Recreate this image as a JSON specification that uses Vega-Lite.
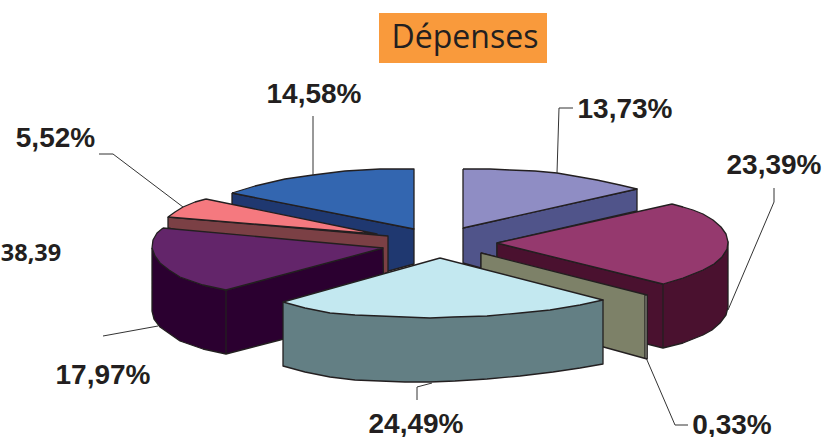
{"$schema":"https://vega.github.io/schema/vega-lite/v6.json","width":838,"height":437,"autosize":{"type":"none"},"padding":0,"background":"white","view":{"stroke":null},
"layer":[
{"data":{"values":[{"x":379,"x2":547,"y":13,"y2":63}]},"mark":{"type":"rect","fill":"#f99a3c"},"encoding":{"x":{"field":"x","type":"quantitative","scale":{"domain":[0,838],"nice":false,"zero":false},"axis":null},"x2":{"field":"x2"},"y":{"field":"y","type":"quantitative","scale":{"domain":[437,0],"nice":false,"zero":false},"axis":null},"y2":{"field":"y2"}}},
{"data":{"values":[
{"part":"blue side","i":1,"x":232,"y":193},{"part":"blue side","i":2,"x":414,"y":229},{"part":"blue side","i":3,"x":414,"y":264},{"part":"blue side","i":4,"x":385,"y":272},{"part":"blue side","i":5,"x":232,"y":204},{"part":"blue side","i":6,"x":232,"y":193},
{"part":"blue top","i":1,"x":232,"y":193},{"part":"blue top","i":2,"x":255,"y":186},{"part":"blue top","i":3,"x":285,"y":179},{"part":"blue top","i":4,"x":313,"y":175},{"part":"blue top","i":5,"x":345,"y":171},{"part":"blue top","i":6,"x":380,"y":169},{"part":"blue top","i":7,"x":414,"y":169},{"part":"blue top","i":8,"x":414,"y":229},{"part":"blue top","i":9,"x":232,"y":193},
{"part":"lavender side","i":1,"x":463,"y":228},{"part":"lavender side","i":2,"x":637,"y":189},{"part":"lavender side","i":3,"x":637,"y":211},{"part":"lavender side","i":4,"x":497,"y":243},{"part":"lavender side","i":5,"x":497,"y":257},{"part":"lavender side","i":6,"x":481,"y":253},{"part":"lavender side","i":7,"x":481,"y":268},{"part":"lavender side","i":8,"x":463,"y":263},{"part":"lavender side","i":9,"x":463,"y":228},
{"part":"lavender top","i":1,"x":463,"y":169},{"part":"lavender top","i":2,"x":490,"y":169},{"part":"lavender top","i":3,"x":510,"y":170},{"part":"lavender top","i":4,"x":535,"y":171},{"part":"lavender top","i":5,"x":557,"y":173},{"part":"lavender top","i":6,"x":580,"y":177},{"part":"lavender top","i":7,"x":597,"y":180},{"part":"lavender top","i":8,"x":620,"y":185},{"part":"lavender top","i":9,"x":637,"y":189},{"part":"lavender top","i":10,"x":463,"y":228},{"part":"lavender top","i":11,"x":463,"y":169},
{"part":"pink side","i":1,"x":168,"y":217},{"part":"pink side","i":2,"x":388,"y":236},{"part":"pink side","i":3,"x":388,"y":272},{"part":"pink side","i":4,"x":380,"y":276},{"part":"pink side","i":5,"x":168,"y":228},{"part":"pink side","i":6,"x":168,"y":217},
{"part":"pink top","i":1,"x":206,"y":199},{"part":"pink top","i":2,"x":377,"y":234},{"part":"pink top","i":3,"x":168,"y":217},{"part":"pink top","i":4,"x":175,"y":212},{"part":"pink top","i":5,"x":183,"y":207},{"part":"pink top","i":6,"x":195,"y":202},{"part":"pink top","i":7,"x":206,"y":199},
{"part":"purple side","i":1,"x":152,"y":248},{"part":"purple side","i":2,"x":160,"y":263},{"part":"purple side","i":3,"x":180,"y":277},{"part":"purple side","i":4,"x":203,"y":285},{"part":"purple side","i":5,"x":226,"y":290},{"part":"purple side","i":6,"x":383,"y":248},{"part":"purple side","i":7,"x":384,"y":311},{"part":"purple side","i":8,"x":280,"y":340},{"part":"purple side","i":9,"x":226,"y":354},{"part":"purple side","i":10,"x":203,"y":349},{"part":"purple side","i":11,"x":180,"y":341},{"part":"purple side","i":12,"x":160,"y":327},{"part":"purple side","i":13,"x":154,"y":319},{"part":"purple side","i":14,"x":152,"y":311},{"part":"purple side","i":15,"x":152,"y":248},
{"part":"purple front","i":1,"x":226,"y":290},{"part":"purple front","i":2,"x":226,"y":354},
{"part":"purple top","i":1,"x":163,"y":228},{"part":"purple top","i":2,"x":383,"y":248},{"part":"purple top","i":3,"x":226,"y":290},{"part":"purple top","i":4,"x":203,"y":285},{"part":"purple top","i":5,"x":180,"y":277},{"part":"purple top","i":6,"x":169,"y":270},{"part":"purple top","i":7,"x":160,"y":263},{"part":"purple top","i":8,"x":155,"y":256},{"part":"purple top","i":9,"x":152,"y":248},{"part":"purple top","i":10,"x":153,"y":240},{"part":"purple top","i":11,"x":157,"y":233},{"part":"purple top","i":12,"x":163,"y":228},
{"part":"maroon side","i":1,"x":497,"y":243},{"part":"maroon side","i":2,"x":663,"y":284},{"part":"maroon side","i":3,"x":683,"y":278},{"part":"maroon side","i":4,"x":703,"y":270},{"part":"maroon side","i":5,"x":714,"y":264},{"part":"maroon side","i":6,"x":722,"y":257},{"part":"maroon side","i":7,"x":727,"y":249},{"part":"maroon side","i":8,"x":728,"y":242},{"part":"maroon side","i":9,"x":728,"y":307},{"part":"maroon side","i":10,"x":726,"y":315},{"part":"maroon side","i":11,"x":720,"y":323},{"part":"maroon side","i":12,"x":712,"y":330},{"part":"maroon side","i":13,"x":703,"y":335},{"part":"maroon side","i":14,"x":683,"y":343},{"part":"maroon side","i":15,"x":663,"y":348},{"part":"maroon side","i":16,"x":647,"y":344},{"part":"maroon side","i":17,"x":497,"y":257},{"part":"maroon side","i":18,"x":497,"y":243},
{"part":"maroon front","i":1,"x":663,"y":284},{"part":"maroon front","i":2,"x":663,"y":348},
{"part":"maroon top","i":1,"x":672,"y":204},{"part":"maroon top","i":2,"x":683,"y":207},{"part":"maroon top","i":3,"x":693,"y":210},{"part":"maroon top","i":4,"x":703,"y":214},{"part":"maroon top","i":5,"x":713,"y":220},{"part":"maroon top","i":6,"x":721,"y":227},{"part":"maroon top","i":7,"x":726,"y":234},{"part":"maroon top","i":8,"x":728,"y":242},{"part":"maroon top","i":9,"x":727,"y":249},{"part":"maroon top","i":10,"x":722,"y":257},{"part":"maroon top","i":11,"x":714,"y":264},{"part":"maroon top","i":12,"x":703,"y":270},{"part":"maroon top","i":13,"x":683,"y":278},{"part":"maroon top","i":14,"x":663,"y":284},{"part":"maroon top","i":15,"x":497,"y":243},{"part":"maroon top","i":16,"x":672,"y":204},
{"part":"olive","i":1,"x":481,"y":253},{"part":"olive","i":2,"x":647,"y":295},{"part":"olive","i":3,"x":647,"y":359},{"part":"olive","i":4,"x":560,"y":335},{"part":"olive","i":5,"x":481,"y":312},{"part":"olive","i":6,"x":481,"y":253},
{"part":"olive edge","i":1,"x":645,"y":295},{"part":"olive edge","i":2,"x":647,"y":295},{"part":"olive edge","i":3,"x":647,"y":359},{"part":"olive edge","i":4,"x":645,"y":358},{"part":"olive edge","i":5,"x":645,"y":295},
{"part":"cyan side","i":1,"x":283,"y":302},{"part":"cyan side","i":2,"x":603,"y":300},{"part":"cyan side","i":3,"x":603,"y":364},{"part":"cyan side","i":4,"x":580,"y":368},{"part":"cyan side","i":5,"x":553,"y":372},{"part":"cyan side","i":6,"x":520,"y":376},{"part":"cyan side","i":7,"x":487,"y":379},{"part":"cyan side","i":8,"x":455,"y":381},{"part":"cyan side","i":9,"x":430,"y":382},{"part":"cyan side","i":10,"x":405,"y":382},{"part":"cyan side","i":11,"x":380,"y":381},{"part":"cyan side","i":12,"x":355,"y":380},{"part":"cyan side","i":13,"x":330,"y":377},{"part":"cyan side","i":14,"x":305,"y":372},{"part":"cyan side","i":15,"x":283,"y":366},{"part":"cyan side","i":16,"x":283,"y":302},
{"part":"cyan top","i":1,"x":440,"y":258},{"part":"cyan top","i":2,"x":603,"y":300},{"part":"cyan top","i":3,"x":580,"y":305},{"part":"cyan top","i":4,"x":550,"y":310},{"part":"cyan top","i":5,"x":520,"y":313},{"part":"cyan top","i":6,"x":487,"y":316},{"part":"cyan top","i":7,"x":453,"y":317},{"part":"cyan top","i":8,"x":430,"y":318},{"part":"cyan top","i":9,"x":405,"y":317},{"part":"cyan top","i":10,"x":380,"y":316},{"part":"cyan top","i":11,"x":355,"y":315},{"part":"cyan top","i":12,"x":330,"y":313},{"part":"cyan top","i":13,"x":305,"y":308},{"part":"cyan top","i":14,"x":283,"y":302},{"part":"cyan top","i":15,"x":440,"y":258}
]},"mark":{"type":"line","filled":true,"stroke":"#231f20","strokeWidth":1.3,"strokeJoin":"round"},"encoding":{"x":{"field":"x","type":"quantitative","scale":{"domain":[0,838],"nice":false,"zero":false},"axis":null},"y":{"field":"y","type":"quantitative","scale":{"domain":[437,0],"nice":false,"zero":false},"axis":null},"order":{"field":"i","type":"ordinal"},"fill":{"field":"part","type":"nominal","legend":null,"scale":{"domain":["blue side","blue top","lavender side","lavender top","pink side","pink top","purple side","purple front","purple top","maroon side","maroon front","maroon top","olive","olive edge","cyan side","cyan top"],"range":["#1f3870","#3366b0","#50548a","#8f8dc4","#7b4045","#f5797f","#2b0030","#2b0030","#63256a","#4a112f","#4a112f","#95396e","#7d8168","#d5d8c4","#637f84","#c3e8f0"]}}}},
{"data":{"values":[
{"leader":"a","i":1,"x":313,"y":175},{"leader":"a","i":2,"x":313,"y":116},
{"leader":"b","i":1,"x":183,"y":207},{"leader":"b","i":2,"x":113,"y":154},{"leader":"b","i":3,"x":99,"y":154},
{"leader":"c","i":1,"x":557,"y":173},{"leader":"c","i":2,"x":559,"y":108},{"leader":"c","i":3,"x":573,"y":108},
{"leader":"d","i":1,"x":728,"y":310},{"leader":"d","i":2,"x":774,"y":202},{"leader":"d","i":3,"x":774,"y":188},
{"leader":"e","i":1,"x":647,"y":360},{"leader":"e","i":2,"x":675,"y":425},{"leader":"e","i":3,"x":688,"y":425},
{"leader":"f","i":1,"x":432,"y":383},{"leader":"f","i":2,"x":417,"y":387},{"leader":"f","i":3,"x":417,"y":400},
{"leader":"g","i":1,"x":158,"y":326},{"leader":"g","i":2,"x":103,"y":336}
]},"mark":{"type":"line","stroke":"#333333","strokeWidth":1},"encoding":{"x":{"field":"x","type":"quantitative","scale":{"domain":[0,838],"nice":false,"zero":false},"axis":null},"y":{"field":"y","type":"quantitative","scale":{"domain":[437,0],"nice":false,"zero":false},"axis":null},"order":{"field":"i","type":"ordinal"},"detail":{"field":"leader"}}},
{"data":{"values":[
{"label":"14,58%","x":314,"y":103},{"label":"5,52%","x":55.5,"y":147},{"label":"13,73%","x":625,"y":118},{"label":"23,39%","x":774,"y":174},{"label":"0,33%","x":732,"y":434},{"label":"24,49%","x":416,"y":433},{"label":"17,97%","x":103,"y":384}
]},"mark":{"type":"text","font":"Liberation Sans","fontWeight":"bold","fontSize":28,"color":"#231f20","align":"center","baseline":"alphabetic"},"encoding":{"x":{"field":"x","type":"quantitative","scale":{"domain":[0,838],"nice":false,"zero":false},"axis":null},"y":{"field":"y","type":"quantitative","scale":{"domain":[437,0],"nice":false,"zero":false},"axis":null},"text":{"field":"label"}}},
{"data":{"values":[{"label":"38,39","x":31,"y":261}]},"mark":{"type":"text","font":"Open Sans","fontWeight":"bold","fontSize":23.5,"color":"#231f20","align":"center","baseline":"alphabetic"},"encoding":{"x":{"field":"x","type":"quantitative","scale":{"domain":[0,838],"nice":false,"zero":false},"axis":null},"y":{"field":"y","type":"quantitative","scale":{"domain":[437,0],"nice":false,"zero":false},"axis":null},"text":{"field":"label"}}},
{"data":{"values":[{"label":"Dépenses","x":465,"y":48}]},"mark":{"type":"text","font":"Open Sans","fontSize":32,"color":"#231f20","align":"center","baseline":"alphabetic"},"encoding":{"x":{"field":"x","type":"quantitative","scale":{"domain":[0,838],"nice":false,"zero":false},"axis":null},"y":{"field":"y","type":"quantitative","scale":{"domain":[437,0],"nice":false,"zero":false},"axis":null},"text":{"field":"label"}}}
]}
